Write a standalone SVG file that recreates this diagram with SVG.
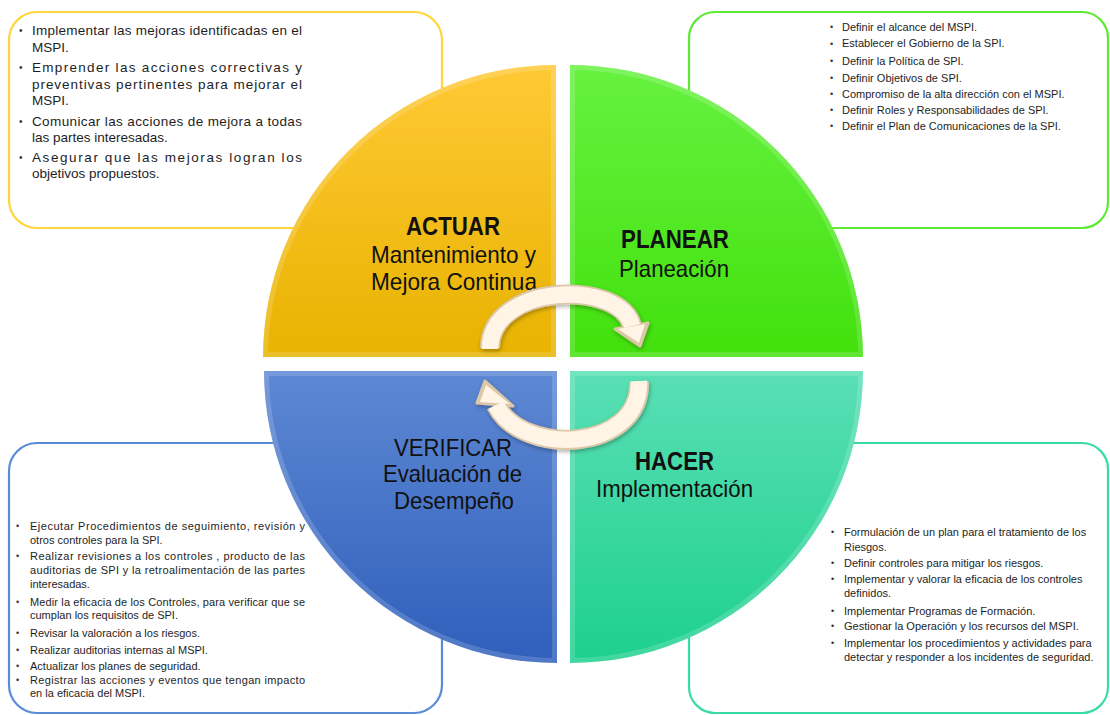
<svg xmlns="http://www.w3.org/2000/svg" xmlns:xlink="http://www.w3.org/1999/xlink" width="1110" height="715" viewBox="0 0 1110 715">
<style>
  .box{fill:#fff;stroke-width:2.2}
  .t13{font-family:"Liberation Sans",Arial,sans-serif;font-size:13.5px;fill:#1e1e1e}
  .t11{font-family:"Liberation Sans",Arial,sans-serif;font-size:11px;fill:#1e1e1e}
  .bul{font-family:"Liberation Sans",Arial,sans-serif;fill:#333}
  .hd{font-family:"Liberation Sans",Arial,sans-serif;font-weight:bold;fill:#111}
  .sub{font-family:"Liberation Sans",Arial,sans-serif;font-size:24px;fill:#111}
  .hl{fill:none;stroke:#fff;stroke-opacity:.16;stroke-width:10}
  .aout{fill:none;stroke:#dcc8a8;stroke-width:20}
  .ain{fill:none;stroke:#fff4e6;stroke-width:16.5}
</style>
<defs>
  <linearGradient id="gY" x1="0" y1="0" x2="0" y2="1"><stop offset="0" stop-color="#ffc936"/><stop offset="1" stop-color="#e8b300"/></linearGradient>
  <linearGradient id="gG" x1="0" y1="0" x2="0" y2="1"><stop offset="0" stop-color="#66f240"/><stop offset="1" stop-color="#42e00c"/></linearGradient>
  <linearGradient id="gB" x1="0" y1="0" x2="0" y2="1"><stop offset="0" stop-color="#5e88d3"/><stop offset="1" stop-color="#2f5fbc"/></linearGradient>
  <linearGradient id="gT" x1="0" y1="0" x2="0" y2="1"><stop offset="0" stop-color="#5adfb5"/><stop offset="1" stop-color="#1dd08e"/></linearGradient>
  <path id="qY" d="M556 357 L263 357 A293 292 0 0 1 556 65 Z"/>
  <path id="qG" d="M570 357 L570 65 A293 292 0 0 1 863 357 Z"/>
  <path id="qT" d="M570 371 L863 371 A293 292 0 0 1 570 663 Z"/>
  <path id="qB" d="M557 371 L557 663 A293 292 0 0 1 264 371 Z"/>
  <clipPath id="cY"><use xlink:href="#qY"/></clipPath>
  <clipPath id="cG"><use xlink:href="#qG"/></clipPath>
  <clipPath id="cT"><use xlink:href="#qT"/></clipPath>
  <clipPath id="cB"><use xlink:href="#qB"/></clipPath>
  <filter id="sh" x="-20%" y="-20%" width="140%" height="140%"><feDropShadow dx="1" dy="2" stdDeviation="2" flood-color="#000" flood-opacity=".3"/></filter>
</defs>
<rect width="1110" height="715" fill="#fff"/>

<!-- text boxes -->
<g id="box-actuar">
  <rect class="box" x="9" y="12" width="433" height="216" rx="28" stroke="#ffd53a"/>
  <g class="bul" font-size="10"><text x="19" y="34">•</text><text x="19" y="71">•</text><text x="19" y="125">•</text><text x="19" y="161">•</text></g>
  <text class="t13" x="32" y="35" textLength="270" lengthAdjust="spacing">Implementar las mejoras identificadas en el</text>
  <text class="t13" x="32" y="52">MSPI.</text>
  <text class="t13" x="32" y="72" textLength="270" lengthAdjust="spacing">Emprender las acciones correctivas y</text>
  <text class="t13" x="32" y="89" textLength="270" lengthAdjust="spacing">preventivas pertinentes para mejorar el</text>
  <text class="t13" x="32" y="105">MSPI.</text>
  <text class="t13" x="32" y="126" textLength="270" lengthAdjust="spacing">Comunicar las acciones de mejora a todas</text>
  <text class="t13" x="32" y="142">las partes interesadas.</text>
  <text class="t13" x="32" y="162" textLength="270" lengthAdjust="spacing">Asegurar que las mejoras logran los</text>
  <text class="t13" x="32" y="178">objetivos propuestos.</text>
</g>

<g id="box-planear">
  <rect class="box" x="689" y="12" width="419" height="216" rx="26" stroke="#5eea34"/>
  <g class="bul" font-size="9"><text x="830" y="30">•</text><text x="830" y="47">•</text><text x="830" y="64">•</text><text x="830" y="81">•</text><text x="830" y="97">•</text><text x="830" y="113">•</text><text x="830" y="129">•</text></g>
  <text class="t11" x="842" y="31">Definir el alcance del MSPI.</text>
  <text class="t11" x="842" y="47">Establecer el Gobierno de la SPI.</text>
  <text class="t11" x="842" y="65">Definir la Política de SPI.</text>
  <text class="t11" x="842" y="82">Definir Objetivos de SPI.</text>
  <text class="t11" x="842" y="98">Compromiso de la alta dirección con el MSPI.</text>
  <text class="t11" x="842" y="114">Definir Roles y Responsabilidades de SPI.</text>
  <text class="t11" x="842" y="130">Definir el Plan de Comunicaciones de la SPI.</text>
</g>

<g id="box-verificar">
  <rect class="box" x="9" y="443" width="433" height="270" rx="28" stroke="#5a8bd6"/>
  <g class="bul" font-size="9"><text x="16" y="529">•</text><text x="16" y="559">•</text><text x="16" y="605">•</text><text x="16" y="636">•</text><text x="16" y="653">•</text><text x="16" y="669">•</text><text x="16" y="683">•</text></g>
  <text class="t11" x="30" y="530" textLength="275" lengthAdjust="spacing">Ejecutar Procedimientos de seguimiento, revisión y</text>
  <text class="t11" x="30" y="544">otros controles para la SPI.</text>
  <text class="t11" x="30" y="560" textLength="275" lengthAdjust="spacing">Realizar revisiones a los controles , producto de las</text>
  <text class="t11" x="30" y="574" textLength="275" lengthAdjust="spacing">auditorias de SPI y la retroalimentación de las partes</text>
  <text class="t11" x="30" y="588">interesadas.</text>
  <text class="t11" x="30" y="606" textLength="275" lengthAdjust="spacing">Medir la eficacia de los Controles, para verificar que se</text>
  <text class="t11" x="30" y="619">cumplan los requisitos de SPI.</text>
  <text class="t11" x="30" y="637">Revisar la valoración a los riesgos.</text>
  <text class="t11" x="30" y="654">Realizar auditorias internas al MSPI.</text>
  <text class="t11" x="30" y="670">Actualizar los planes de seguridad.</text>
  <text class="t11" x="30" y="684" textLength="275" lengthAdjust="spacing">Registrar las acciones y eventos que tengan impacto</text>
  <text class="t11" x="30" y="697">en la eficacia del MSPI.</text>
</g>

<g id="box-hacer">
  <rect class="box" x="689" y="443" width="419" height="270" rx="26" stroke="#38dca2"/>
  <g class="bul" font-size="9"><text x="831" y="535">•</text><text x="831" y="566">•</text><text x="831" y="582">•</text><text x="831" y="614">•</text><text x="831" y="629">•</text><text x="831" y="646">•</text></g>
  <text class="t11" x="844" y="535.5">Formulación de un plan para el tratamiento de los</text>
  <text class="t11" x="844" y="550.5">Riesgos.</text>
  <text class="t11" x="844" y="566.5">Definir controles para mitigar los riesgos.</text>
  <text class="t11" x="844" y="582.5">Implementar y valorar la eficacia de los controles</text>
  <text class="t11" x="844" y="596.5">definidos.</text>
  <text class="t11" x="844" y="614.5">Implementar Programas de Formación.</text>
  <text class="t11" x="844" y="629.5">Gestionar la Operación y los recursos del MSPI.</text>
  <text class="t11" x="844" y="646.5">Implementar los procedimientos y actividades para</text>
  <text class="t11" x="844" y="660.5">detectar y responder a los incidentes de seguridad.</text>
</g>

<!-- quadrants -->
<g id="actuar">
  <use xlink:href="#qY" fill="url(#gY)"/>
  <use xlink:href="#qY" class="hl" clip-path="url(#cY)"/>
  <text class="hd" x="406" y="235" font-size="25" textLength="94" lengthAdjust="spacingAndGlyphs">ACTUAR</text>
  <text class="sub" x="371" y="263" textLength="165" lengthAdjust="spacingAndGlyphs">Mantenimiento y</text>
  <text class="sub" x="371" y="290" textLength="166" lengthAdjust="spacingAndGlyphs">Mejora Continua</text>
</g>
<g id="planear">
  <use xlink:href="#qG" fill="url(#gG)"/>
  <use xlink:href="#qG" class="hl" clip-path="url(#cG)"/>
  <text class="hd" x="621" y="248" font-size="26" textLength="108" lengthAdjust="spacingAndGlyphs">PLANEAR</text>
  <text class="sub" x="619" y="277" textLength="110" lengthAdjust="spacingAndGlyphs">Planeación</text>
</g>
<g id="hacer">
  <use xlink:href="#qT" fill="url(#gT)"/>
  <use xlink:href="#qT" class="hl" clip-path="url(#cT)"/>
  <text class="hd" x="635" y="470" font-size="25" textLength="79" lengthAdjust="spacingAndGlyphs">HACER</text>
  <text class="sub" x="596" y="497" textLength="157" lengthAdjust="spacingAndGlyphs">Implementación</text>
</g>
<g id="verificar">
  <use xlink:href="#qB" fill="url(#gB)"/>
  <use xlink:href="#qB" class="hl" clip-path="url(#cB)"/>
  <text class="sub" x="394" y="456" textLength="118" lengthAdjust="spacingAndGlyphs">VERIFICAR</text>
  <text class="sub" x="383" y="482" textLength="139" lengthAdjust="spacingAndGlyphs">Evaluación de</text>
  <text class="sub" x="394" y="509" textLength="120" lengthAdjust="spacingAndGlyphs">Desempeño</text>
</g>

<!-- connectors: cycle arrows -->
<g id="connectors" filter="url(#sh)">
  <path class="aout" d="M490 348 C490 283 620 279 632 326"/>
  <polygon points="648,323 615,329 640,346" fill="#dcc8a8" stroke="#dcc8a8" stroke-width="3" stroke-linejoin="round"/>
  <path class="aout" d="M639 382 C641 452 522 457 496 405"/>
  <polygon points="513,406 477,403 485,381" fill="#dcc8a8" stroke="#dcc8a8" stroke-width="3" stroke-linejoin="round"/>
  <path class="ain" d="M490 349 C490 283 620 279 632 326"/>
  <polygon points="645,324 618,329 639,343" fill="#fff4e6"/>
  <path class="ain" d="M639 381 C641 452 522 457 496 405"/>
  <polygon points="510,404 480,402 486,385" fill="#fff4e6"/>
</g>
</svg>
